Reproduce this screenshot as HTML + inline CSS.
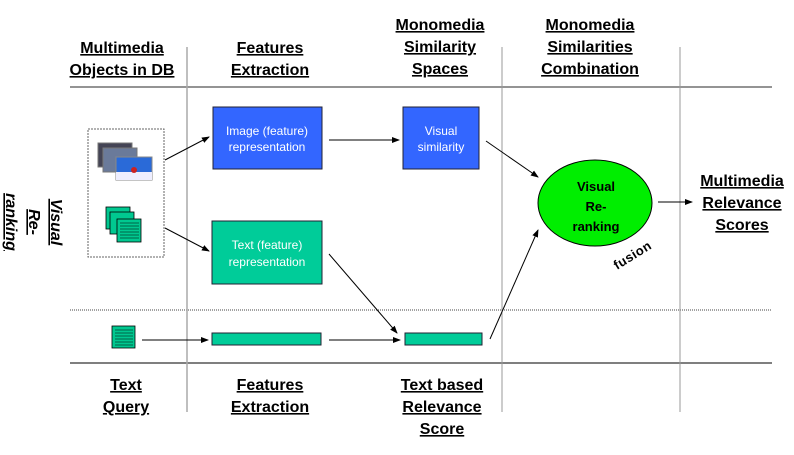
<!DOCTYPE html>
<html><head><style>
html,body{margin:0;padding:0;background:#fff;}
svg{display:block;}
.h{font-family:"Liberation Sans",Arial,sans-serif;font-weight:bold;font-size:16px;text-decoration:underline;fill:#000;}
.w{font-family:"Liberation Sans",Arial,sans-serif;font-size:12px;fill:#fff;}
</style></head><body>
<svg width="794" height="455" viewBox="0 0 794 455" xmlns="http://www.w3.org/2000/svg">
<defs>
<marker id="a" markerWidth="8" markerHeight="8" refX="7" refY="4" orient="auto" markerUnits="userSpaceOnUse">
<path d="M0,1 L8,4 L0,7 z" fill="#000"/></marker>
</defs>
<line x1="70" y1="87" x2="772" y2="87" stroke="#555" stroke-width="1.2"/>
<line x1="70" y1="363" x2="772" y2="363" stroke="#333" stroke-width="1.2"/>
<line x1="70" y1="310" x2="772" y2="310" stroke="#444" stroke-width="1" stroke-dasharray="1,1"/>
<line x1="187" y1="47" x2="187" y2="412" stroke="#aaa" stroke-width="1.5"/>
<line x1="502" y1="47" x2="502" y2="412" stroke="#999" stroke-width="1"/>
<line x1="680" y1="47" x2="680" y2="412" stroke="#999" stroke-width="1"/>
<g class="h" text-anchor="middle">
<text x="122" y="53">Multimedia</text><text x="122" y="75">Objects in DB</text>
<text x="270" y="53">Features</text><text x="270" y="75">Extraction</text>
<text x="440" y="30">Monomedia</text><text x="440" y="52">Similarity</text><text x="440" y="74">Spaces</text>
<text x="590" y="30">Monomedia</text><text x="590" y="52">Similarities</text><text x="590" y="74">Combination</text>
<text x="126" y="390">Text</text><text x="126" y="412">Query</text>
<text x="270" y="390">Features</text><text x="270" y="412">Extraction</text>
<text x="442" y="390">Text based</text><text x="442" y="412">Relevance</text><text x="442" y="434">Score</text>
<text x="742" y="186">Multimedia</text><text x="742" y="208">Relevance</text><text x="742" y="230">Scores</text>
</g>
<g class="h" font-style="italic" text-anchor="middle" font-size="18">
<text transform="translate(51,222) rotate(90)">Visual</text>
<text transform="translate(29,222) rotate(90)">Re-</text>
<text transform="translate(6,222) rotate(90)">ranking</text>
</g>
<rect x="88" y="129" width="76" height="128" fill="none" stroke="#666" stroke-width="1" stroke-dasharray="2,1"/>
<rect x="98" y="143" width="34" height="24" fill="#445" stroke="#777"/>
<rect x="103" y="148" width="34" height="24" fill="#6a7a9a" stroke="#777"/>
<rect x="116" y="157" width="36" height="23" fill="#2a6ad8" stroke="#888"/>
<rect x="116" y="172" width="36" height="8" fill="#eef"/>
<circle cx="134" cy="170" r="3" fill="#c22"/>
<g stroke="#000" stroke-width="0.8" fill="#00c890">
<rect x="106" y="207" width="24" height="22"/>
<rect x="110" y="212" width="24" height="22"/>
<rect x="117" y="219" width="24" height="23"/>
<rect x="112" y="326" width="23" height="22"/>
</g>
<g stroke="#000" stroke-width="0.6">
<line x1="120" y1="223" x2="139" y2="223"/><line x1="120" y1="226" x2="139" y2="226"/><line x1="120" y1="229" x2="139" y2="229"/><line x1="120" y1="232" x2="139" y2="232"/><line x1="120" y1="235" x2="139" y2="235"/><line x1="120" y1="238" x2="139" y2="238"/>
<line x1="115" y1="330" x2="133" y2="330"/><line x1="115" y1="333" x2="133" y2="333"/><line x1="115" y1="336" x2="133" y2="336"/><line x1="115" y1="339" x2="133" y2="339"/><line x1="115" y1="342" x2="133" y2="342"/><line x1="115" y1="345" x2="133" y2="345"/>
</g>
<rect x="213" y="107" width="109" height="62" fill="#3366ff" stroke="#223" stroke-width="1"/>
<text class="w" text-anchor="middle"><tspan x="267" y="135">Image (feature)</tspan><tspan x="267" y="151">representation</tspan></text>
<rect x="212" y="221" width="110" height="63" fill="#00cc99" stroke="#223" stroke-width="1"/>
<text class="w" text-anchor="middle"><tspan x="267" y="249">Text (feature)</tspan><tspan x="267" y="266">representation</tspan></text>
<rect x="403" y="107" width="76" height="62" fill="#3366ff" stroke="#223" stroke-width="1"/>
<text class="w" text-anchor="middle"><tspan x="441" y="135">Visual</tspan><tspan x="441" y="151">similarity</tspan></text>
<rect x="212" y="333" width="109" height="12" fill="#00cc99" stroke="#223" stroke-width="1"/>
<rect x="405" y="333" width="77" height="12" fill="#00cc99" stroke="#223" stroke-width="1"/>
<ellipse cx="595" cy="203" rx="57" ry="43" fill="#00ee00" stroke="#000" stroke-width="1"/>
<g font-family="Liberation Sans,Arial,sans-serif" font-weight="bold" font-size="13" text-anchor="middle">
<text x="596" y="191">Visual</text><text x="596" y="211">Re-</text><text x="596" y="231">ranking</text>
</g>
<text transform="translate(617,270) rotate(-32)" font-family="Liberation Sans,Arial,sans-serif" font-weight="bold" font-size="13" letter-spacing="0.5">fusion</text>
<g stroke="#000" stroke-width="1" fill="none" marker-end="url(#a)">
<line x1="165" y1="160" x2="209" y2="137"/>
<line x1="165" y1="228" x2="209" y2="251"/>
<line x1="329" y1="140" x2="399" y2="140"/>
<line x1="486" y1="141" x2="538" y2="177"/>
<line x1="329" y1="254" x2="397" y2="333"/>
<line x1="142" y1="340" x2="208" y2="340"/>
<line x1="329" y1="340" x2="400" y2="340"/>
<line x1="490" y1="339" x2="538" y2="230"/>
<line x1="658" y1="202" x2="692" y2="202"/>
</g>
</svg>
</body></html>
